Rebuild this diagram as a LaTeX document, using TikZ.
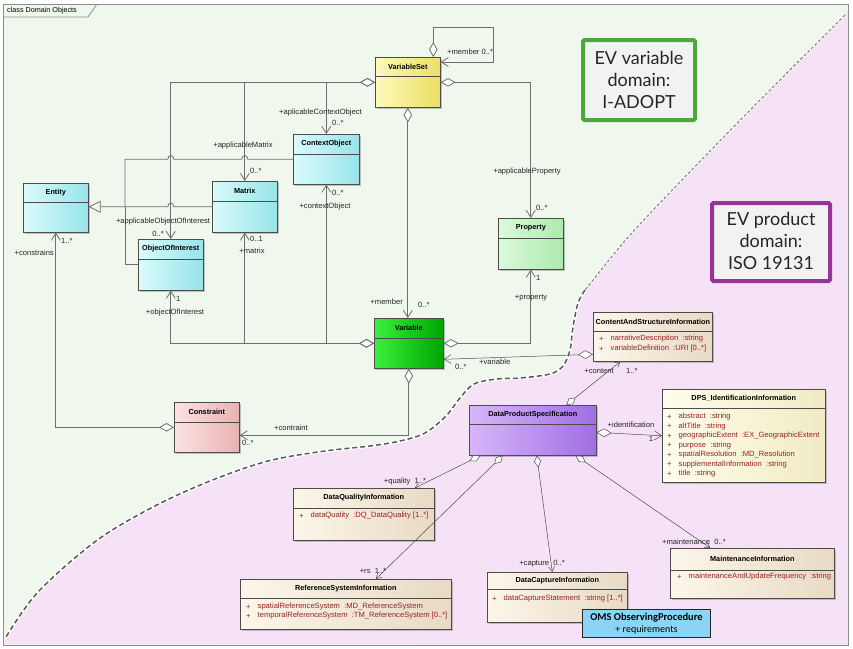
\documentclass[tikz,border=0pt]{standalone}
\usepackage{fontspec}
\setmainfont{Liberation Sans}
\newfontfamily\evfont{Lato}
\newfontfamily\omsfont{Carlito}
\usetikzlibrary{arrows.meta,calc,shadows}

\definecolor{bggreen}{RGB}{240,248,238}
\definecolor{bgpink}{RGB}{246,226,246}
\definecolor{linegray}{RGB}{110,110,110}
\definecolor{attrred}{RGB}{150,35,35}
\definecolor{evgreen}{RGB}{77,167,58}
\definecolor{evpurple}{RGB}{153,51,153}
\definecolor{evgray}{RGB}{242,242,242}
\definecolor{omsblue}{RGB}{140,212,246}
\definecolor{cyanL}{RGB}{218,251,251}
\definecolor{cyanR}{RGB}{150,228,234}
\definecolor{yelL}{RGB}{252,250,188}
\definecolor{yelR}{RGB}{236,222,100}
\definecolor{propL}{RGB}{220,250,220}
\definecolor{propR}{RGB}{172,234,172}
\definecolor{varL}{RGB}{60,240,60}
\definecolor{varR}{RGB}{0,165,0}
\definecolor{conL}{RGB}{252,226,226}
\definecolor{conR}{RGB}{232,178,178}
\definecolor{dpsL}{RGB}{216,182,250}
\definecolor{dpsR}{RGB}{160,110,228}
\definecolor{beL}{RGB}{252,246,234}
\definecolor{beR}{RGB}{232,218,196}
\definecolor{idL}{RGB}{255,253,236}
\definecolor{idR}{RGB}{240,235,196}

\tikzset{
  cls/.style={draw=black!70, line width=0.6pt, inner sep=0pt,
    drop shadow={shadow xshift=1.8pt, shadow yshift=-1.8pt, fill=black!50, opacity=0.45}},
  sepl/.style={draw=black!70, line width=0.5pt},
  ctitle/.style={font=\fontsize{7.3}{8}\selectfont\bfseries, text=black, inner sep=0pt},
  lbl/.style={font=\fontsize{7.6}{8}\selectfont, text=black!85, inner sep=0pt},
  attrtxt/.style={font=\fontsize{7.6}{8}\selectfont, text=attrred, inner sep=0pt, anchor=west},
  assoc/.style={draw=linegray, line width=0.8pt},
  passoc/.style={draw=black!70, line width=0.5pt},
  dnav/.style={{Diamond[fill=white,length=15pt,width=8.5pt]}-{Straight Barb[length=7pt,width=9pt]}},
  sdnav/.style={{Diamond[fill=white,length=12pt,width=7pt]}-{Straight Barb[length=5pt,width=6pt]}},
  cyancls/.style={left color=cyanL, right color=cyanR},
  yelcls/.style={left color=yelL, right color=yelR},
  propcls/.style={left color=propL, right color=propR},
  varcls/.style={left color=varL, right color=varR},
  concls/.style={left color=conL, right color=conR},
  dpscls/.style={left color=dpsL, right color=dpsR},
  becls/.style={left color=beL, right color=beR},
  idcls/.style={left color=idL, right color=idR},
}

\newcommand{\umlcls}[8]{%
  \node[cls, #7, minimum width=#4pt, minimum height=#5pt, anchor=north west] (#1) at (#2,#3) {};
  \draw[sepl] ($(#1.north west)+(0,#6)$) -- ($(#1.north east)+(0,#6)$);
  \node[ctitle] (#1t) at ($(#1.north)+(0,#6/2)$) {#8};
}
\newcommand{\umlattr}[4]{%
  \node[attrtxt] (#1p) at (#2,#3) {+};
  \node[attrtxt] (#1) at (#2+11.5,#3) {#4};
}
\newcommand{\uppercurve}{(845,15) (760,100) (680,182) (630,235) (593,280) (585,290)}
\newcommand{\lowercurve}{(585,290) (578,303) (573,327) (570,350) (563,366) (550,374) (520,378) (497,379) (474,384) (460,398) (446,416) (425,433) (400,441) (370,446) (325,451) (268,461) (210,481) (153,507) (96,541) (38,592) (6,637)}

\begin{document}
\begin{tikzpicture}[x=1pt,y=-1pt]
\useasboundingbox (0,0) rectangle (853,648);
\fill[white] (0,0) rectangle (853,648);
\fill[bggreen] (3,4) rectangle (848,645);
% product domain
\fill[bgpink] (848,645) -- (848,10) -- plot[smooth, tension=0.55] coordinates {(845,15) (760,100) (680,182) (630,235) (593,280) (585,290) (578,303) (573,327) (570,350) (563,366) (550,374) (520,378) (497,379) (474,384) (460,398) (446,416) (425,433) (400,441) (370,446) (325,451) (268,461) (210,481) (153,507) (96,541) (38,592) (6,637)} -- (4,644) -- cycle;
\draw[white, line width=1.8pt] plot[smooth, tension=0.55] coordinates {(845,15) (760,100) (680,182) (630,235) (593,280) (585,290)};
\draw[black!55, line width=0.9pt, dash pattern=on 3pt off 2pt] plot[smooth, tension=0.55] coordinates {(845,15) (760,100) (680,182) (630,235) (593,280) (585,290)};
\draw[white, line width=3.4pt] plot[smooth, tension=0.55] coordinates {(585,290) (578,303) (573,327) (570,350) (563,366) (550,374) (520,378) (497,379) (474,384) (460,398) (446,416) (425,433) (400,441) (370,446) (325,451) (268,461) (210,481) (153,507) (96,541) (38,592) (6,637)};
\draw[black!65, line width=1.5pt, dash pattern=on 5pt off 3pt] plot[smooth, tension=0.55] coordinates {(585,290) (578,303) (573,327) (570,350) (563,366) (550,374) (520,378) (497,379) (474,384) (460,398) (446,416) (425,433) (400,441) (370,446) (325,451) (268,461) (210,481) (153,507) (96,541) (38,592) (6,637)};
% frame
\draw[black!45, line width=0.8pt] (3,4) rectangle (848,645);
\draw[black!45, line width=0.8pt] (3,17) -- (88,17) -- (97,4);
\node[font=\fontsize{7.2}{8}\selectfont, anchor=west, inner sep=0pt] (frlbl) at (7,10.5) {class Domain Objects};

% classes
\umlcls{vs}{375}{57}{65}{50}{19}{yelcls}{VariableSet}
\umlcls{ent}{23}{183}{65}{49}{19}{cyancls}{Entity}
\umlcls{mx}{212}{181}{65}{51}{20}{cyancls}{Matrix}
\umlcls{co}{293}{134}{66}{50}{20}{cyancls}{ContextObject}
\umlcls{ooi}{138}{239}{65}{51}{20}{cyancls}{ObjectOfInterest}
\umlcls{prop}{498}{218}{65}{51}{20}{propcls}{Property}
\umlcls{var}{374}{318}{69}{50}{20}{varcls}{Variable}
\umlcls{con}{174}{402}{65}{50}{20}{concls}{Constraint}
\umlcls{csi}{593}{312}{119}{49}{19}{becls}{ContentAndStructureInformation}
\umlcls{dps}{469}{405}{127}{50}{19}{dpscls}{DataProductSpecification}
\umlcls{dpsi}{662}{389}{163}{93}{19}{idcls}{DPS\_IdentificationInformation}
\umlcls{dqi}{293}{488}{141}{52}{20}{becls}{DataQualityInformation}
\umlcls{rsi}{240}{579}{211}{50}{19}{becls}{ReferenceSystemInformation}
\umlcls{dci}{487}{572}{140}{50}{17}{becls}{DataCaptureInformation}
\umlcls{mi}{670}{548}{164}{50}{22}{becls}{MaintenanceInformation}

% attributes
\umlattr{a1}{599}{339}{narrativeDescription\ \ :string}
\umlattr{a2}{599}{349}{variableDefinition\ \ :URI [0..*]}
\umlattr{b1}{667}{417}{abstract\ \ :string}
\umlattr{b2}{667}{426.5}{altTitle\ \ :string}
\umlattr{b3}{667}{436}{geographicExtent\ \ :EX\_GeographicExtent}
\umlattr{b4}{667}{445.5}{purpose\ \ :string}
\umlattr{b5}{667}{455}{spatialResolution\ \ :MD\_Resolution}
\umlattr{b6}{667}{464.5}{supplementalInformation\ \ :string}
\umlattr{b7}{667}{474}{title\ \ :string}
\umlattr{c1}{299}{516}{dataQuality\ \ :DQ\_DataQuality [1..*]}
\umlattr{d1}{246}{607}{spatialReferenceSystem\ \ :MD\_ReferenceSystem}
\umlattr{d2}{246}{616}{temporalReferenceSystem\ \ :TM\_ReferenceSystem [0..*]}
\umlattr{e1}{492}{599}{dataCaptureStatement\ \ :string [1..*]}
\umlattr{f1}{677}{577}{maintenanceAndUpdateFrequency\ \ :string}

% helper coordinates
\coordinate (gx) at (125,0);
\coordinate (hA) at (co.west -| mx.north);
\coordinate (hB) at (co.west -| ooi.north);
\coordinate (hC) at (mx.west -| ooi.north);

% variable domain connectors
\draw[assoc, dnav] (vs.west) -- (vs.west -| co.north) -- (co.north);
\draw[assoc, dnav] (vs.west) -- (vs.west -| mx.north) -- (mx.north);
\draw[assoc, dnav] (vs.west) -- (vs.west -| ooi.north) -- (ooi.north);
\draw[assoc, dnav] (vs.east) -- (vs.east -| prop.north) -- (prop.north);
\draw[assoc, dnav] (vs.south) -- (vs.south |- var.north);
\draw[assoc, dnav] ($(vs.north)+(25.5,0)$) -- ($(vs.north)+(25.5,-30)$) -- ($(vs.north east)+(53,-30)$) -- ($(vs.north east)+(53,5)$) -- ($(vs.north east)+(0,5)$);
\draw[assoc, dnav] (var.west) -- (var.west -| co.south) -- (co.south);
\draw[assoc, dnav] (var.west) -- (var.west -| mx.south) -- (mx.south);
\draw[assoc, dnav] (var.west) -- (var.west -| ooi.south) -- (ooi.south);
\draw[assoc, dnav] (var.east) -- (var.east -| prop.south) -- (prop.south);
\draw[assoc, dnav] (var.south) -- ($(var.south |- con.east)+(0,8)$) -- ($(con.east)+(0,8)$);
\draw[assoc, dnav] (con.west) -- (con.west -| ent.south) -- (ent.south);
% generalizations
\draw[assoc, -{Triangle[fill=bggreen, length=12pt, width=12pt]}] (mx.west) -- ($(hC)+(3,0)$) .. controls ($(hC)+(3,-5)$) and ($(hC)+(-3,-5)$) .. ($(hC)+(-3,0)$) -- (mx.west -| ent.east);
\draw[assoc] (co.west) -- ($(hA)+(3,0)$) .. controls ($(hA)+(3,-5)$) and ($(hA)+(-3,-5)$) .. ($(hA)+(-3,0)$) -- ($(hB)+(3,0)$) .. controls ($(hB)+(3,-5)$) and ($(hB)+(-3,-5)$) .. ($(hB)+(-3,0)$) -- (co.west -| gx) -- (mx.west -| gx);
\draw[assoc] (ooi.west) -- (ooi.west -| gx) -- (mx.west -| gx);

% product domain connectors
\draw[passoc, dnav] ($(csi.west)+(0,17.5)$) -- ($(var.east)+(0,16)$);
\draw[passoc, sdnav] ($(dps.north)+(33.5,0)$) -- ($(csi.south)+(-32.5,0)$);
\draw[passoc, dnav] ($(dps.east)+(0,2)$) -- (dpsi.west);
\draw[passoc, sdnav] ($(dps.south)+(-52.5,0)$) -- ($(dqi.north)+(51,0)$);
\draw[passoc, sdnav] ($(dps.south)+(-30,0)$) -- ($(rsi.north)+(30,0)$);
\draw[passoc, sdnav] ($(dps.south)+(4,0)$) -- ($(dci.north)+(-5,0)$);
\draw[passoc, sdnav] ($(dps.south)+(43,0)$) -- ($(mi.north)+(-42,0)$);

% labels
\node[lbl, anchor=west] (l1) at (447,52) {+member 0..*};
\node[lbl, anchor=east] (l2) at (362,113) {+aplicableContextObject};
\node[lbl, anchor=west] (l3) at (332,123) {0..*};
\node[lbl] (l4) at (243,146) {+applicableMatrix};
\node[lbl, anchor=west] (l5) at (250,171) {0..*};
\node[lbl] (l6) at (163,222) {+applicableObjectOfInterest};
\node[lbl, anchor=east] (l7) at (164,234) {0..*};
\node[lbl, anchor=west] (l8) at (61,241) {1..*};
\node[lbl, anchor=east] (l9) at (54,253) {+constrains};
\node[lbl, anchor=west] (l10) at (250,239) {0..1};
\node[lbl] (l11) at (252,251) {+matrix};
\node[lbl, anchor=west] (l12) at (176,299) {1};
\node[lbl] (l13) at (175,313) {+objectOfInterest};
\node[lbl, anchor=west] (l14) at (332,193) {0..*};
\node[lbl] (l15) at (325,207) {+contextObject};
\node[lbl] (l16) at (527,172) {+applicableProperty};
\node[lbl, anchor=west] (l17) at (536,208) {0..*};
\node[lbl, anchor=west] (l18) at (536,278) {1};
\node[lbl] (l19) at (531,298) {+property};
\node[lbl, anchor=east] (l20) at (403,302) {+member};
\node[lbl, anchor=west] (l21) at (418,305) {0..*};
\node[lbl, anchor=west] (l22) at (479,362) {+variable};
\node[lbl, anchor=west] (l23) at (455,367) {0..*};
\node[lbl] (l24) at (291,428) {+contraint};
\node[lbl, anchor=west] (l25) at (242,443) {0..*};
\node[lbl, anchor=east] (l26) at (614,371) {+content};
\node[lbl, anchor=west] (l27) at (626,371) {1..*};
\node[lbl] (l28) at (631,425) {+identification};
\node[lbl] (l29) at (651,439) {1};
\node[lbl] (l30) at (405,482) {+quality\ \ 1..*};
\node[lbl] (l31) at (373,571) {+rs\ \ 1..*};
\node[lbl] (l32) at (542,564) {+capture\ \ 0..*};
\node[lbl] (l33) at (694,542) {+maintenance\ \ 0..*};

% domain boxes
\node[draw=evgreen, line width=4pt, fill=evgray, minimum width=112pt, minimum height=80pt, rounded corners=1.5pt, inner sep=0pt] (evv) at (639,80) {};
\node[font=\evfont\fontsize{18}{22}\selectfont, align=center, text=black!85, inner sep=0pt] (evvt) at (639,80) {EV variable\\domain:\\I-ADOPT};
\node[draw=evpurple, line width=4pt, fill=evgray, minimum width=118pt, minimum height=78pt, rounded corners=1.5pt, inner sep=0pt] (evp) at (771,242) {};
\node[font=\evfont\fontsize{18}{22}\selectfont, align=center, text=black!85, inner sep=0pt] (evpt) at (771,240.5) {EV product\\domain:\\ISO 19131};

% OMS box
\node[draw=black!85, line width=1.2pt, fill=omsblue, minimum width=128pt, minimum height=28pt, inner sep=0pt] (oms) at (646.5,623.5) {};
\node[align=center, font=\omsfont\fontsize{10.5}{12}\selectfont, inner sep=0pt] (omst) at (646.5,624) {\textbf{OMS ObservingProcedure}\\{\fontsize{10}{12}\selectfont + requirements}};
\end{tikzpicture}
\end{document}
